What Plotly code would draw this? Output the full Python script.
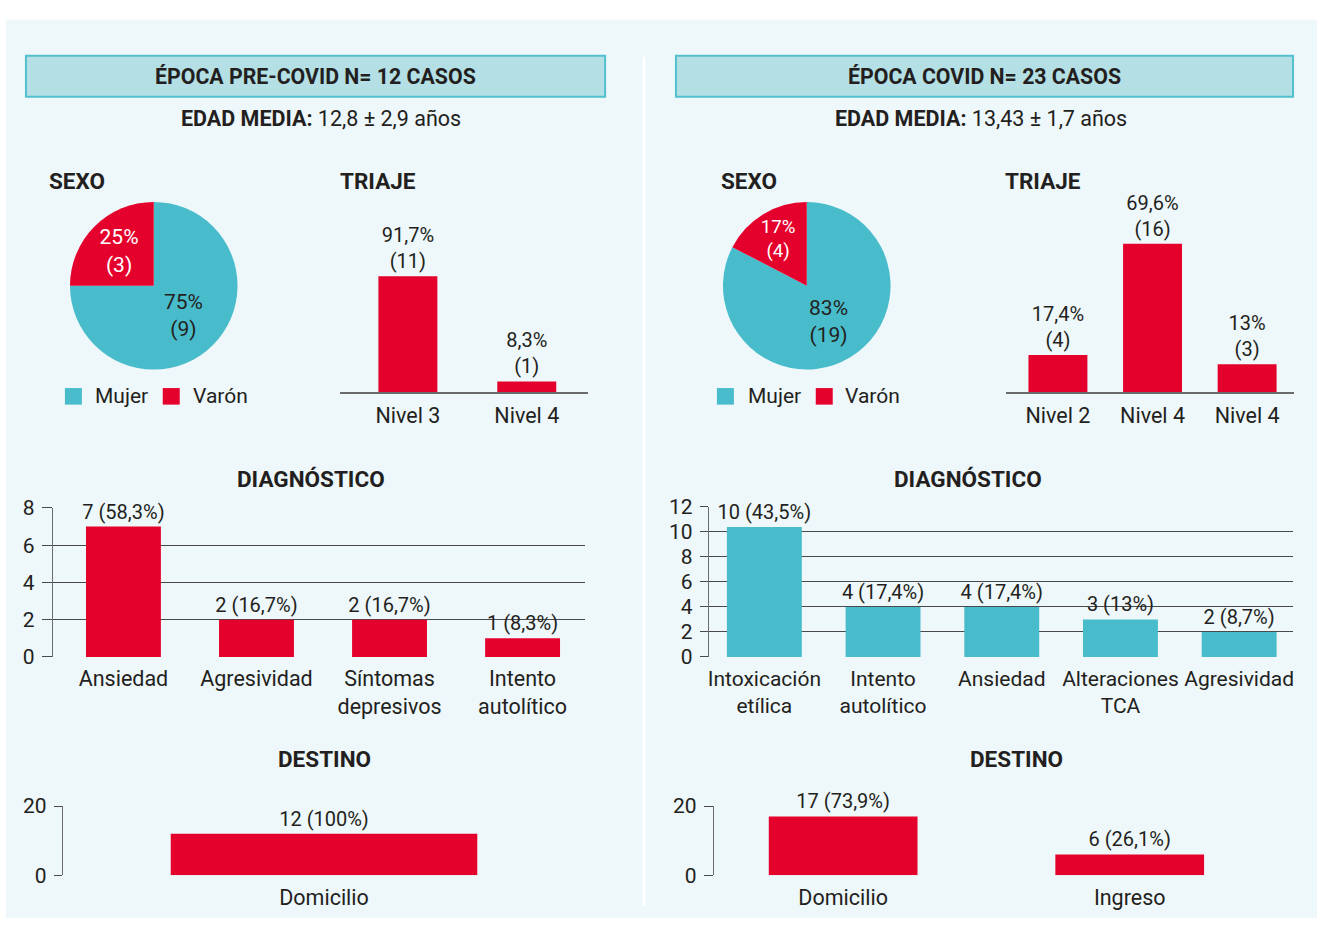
import plotly.graph_objects as go

# ---------------- data ----------------
sexo_labels = ["Mujer", "Varón"]
sexo_pre = [9, 3]
sexo_pre_text = ["75%<br>(9)", "25%<br>(3)"]
sexo_covid = [19, 4]
sexo_covid_text = ["83%<br>(19)", "17%<br>(4)"]

triaje_pre_cats = ["Nivel 3", "Nivel 4"]
triaje_pre_vals = [11, 1]
triaje_pre_text = ["91,7%<br>(11)", "8,3%<br>(1)"]
triaje_covid_cats = ["Nivel 2", "Nivel 4", "Nivel 4"]
triaje_covid_vals = [4, 16, 3]
triaje_covid_text = ["17,4%<br>(4)", "69,6%<br>(16)", "13%<br>(3)"]

diag_pre_cats = ["Ansiedad", "Agresividad", "Síntomas<br>depresivos", "Intento<br>autolítico"]
diag_pre_vals = [7, 2, 2, 1]
diag_pre_text = ["7 (58,3%)", "2 (16,7%)", "2 (16,7%)", "1 (8,3%)"]
diag_covid_cats = ["Intoxicación<br>etílica", "Intento<br>autolítico", "Ansiedad", "Alteraciones<br>TCA", "Agresividad"]
diag_covid_vals = [10.4, 4, 4, 3, 2]
diag_covid_text = ["10 (43,5%)", "4 (17,4%)", "4 (17,4%)", "3 (13%)", "2 (8,7%)"]

dest_pre_cats = ["Domicilio"]
dest_pre_vals = [12]
dest_pre_text = ["12 (100%)"]
dest_covid_cats = ["Domicilio", "Ingreso"]
dest_covid_vals = [17, 6]
dest_covid_text = ["17 (73,9%)", "6 (26,1%)"]

# ---------------- style ----------------
W, H = 1320, 932
RED = "#E4022D"
TEAL = "#48BCCB"
INK = "#231F20"
GRID = "#4a4a4a"
FONT = "Roboto, Open Sans, sans-serif"
LAB = 20


def fx(x):
    return x / W


def fy(y):
    return 1 - y / H


fig = go.Figure()

# ---------------- pies ----------------
for vals, txt_, (x0, x1) in [
    (sexo_pre, sexo_pre_text, (67, 239)),
    (sexo_covid, sexo_covid_text, (721, 893)),
]:
    fig.add_trace(go.Pie(
        labels=sexo_labels, values=vals, text=txt_, textinfo="text",
        sort=False, direction="clockwise", rotation=0,
        marker=dict(colors=[TEAL, RED], line=dict(width=0)),
        textposition="inside", insidetextorientation="horizontal",
        insidetextfont=dict(size=21, color=[INK, "white"], family=FONT),
        domain=dict(x=[fx(x0), fx(x1)], y=[fy(367), fy(195)]),
        showlegend=False, hoverinfo="label+value",
    ))


def add_bar(vals, txt_, color, xa, ya, width):
    xs = list(range(len(vals)))
    fig.add_trace(go.Bar(
        x=xs, y=vals, text=txt_, textposition="outside", cliponaxis=False,
        constraintext="none", width=width,
        textfont=dict(size=LAB, color=INK, family=FONT),
        marker=dict(color=color, line=dict(width=0)),
        xaxis=xa, yaxis=ya, showlegend=False,
    ))
    return xs


layout_axes = {}


def set_axes(n, xs, cats, xdom, ydom, xrange, yrange, yvisible, dtick=2, ticklen=10,
             standoff=6, tick=21.5):
    xk = "xaxis" if n == 1 else f"xaxis{n}"
    yk = "yaxis" if n == 1 else f"yaxis{n}"
    sfx = "" if n == 1 else str(n)
    layout_axes[xk] = dict(
        domain=[fx(xdom[0]), fx(xdom[1])], anchor=f"y{sfx}",
        range=xrange, tickmode="array", tickvals=xs, ticktext=cats,
        showgrid=False, zeroline=False, ticks="", ticklabelstandoff=standoff,
        showline=not yvisible, linecolor="#6b6b6b", linewidth=2,
        tickfont=dict(size=tick, color=INK, family=FONT), fixedrange=True,
    )
    if yvisible:
        layout_axes[yk] = dict(
            domain=[fy(ydom[0]), fy(ydom[1])], anchor=f"x{sfx}",
            range=yrange, dtick=dtick, tick0=0, showgrid=True, gridcolor=GRID,
            gridwidth=1.4, zeroline=False, showline=True, linecolor="#6b6b6b",
            linewidth=1.4, ticks="outside", ticklen=ticklen, tickcolor=GRID,
            tickwidth=1.4, ticklabelstandoff=3,
            tickfont=dict(size=21, color=INK, family=FONT),
            fixedrange=True,
        )
    else:
        layout_axes[yk] = dict(
            domain=[fy(ydom[0]), fy(ydom[1])], anchor=f"x{sfx}",
            range=yrange, visible=False, fixedrange=True,
        )


# triaje pre (axis 1)
xs = add_bar(triaje_pre_vals, triaje_pre_text, RED, "x", "y", 0.496)
set_axes(1, xs, triaje_pre_cats, (340, 588), (390, 217.2), [-0.567, 1.516], [0, 16], False, standoff=3)
# triaje covid (axis 2)
xs = add_bar(triaje_covid_vals, triaje_covid_text, RED, "x2", "y2", 0.623)
set_axes(2, xs, triaje_covid_cats, (1007, 1295), (390, 219), [-0.544, 2.496], [0, 18], False, standoff=3)
# diag pre (axis 3)
xs = add_bar(diag_pre_vals, diag_pre_text, RED, "x3", "y3", 0.563)
set_axes(3, xs, diag_pre_cats, (52, 585), (662, 509), [-0.53, 3.47], [0, 8], True, dtick=2, ticklen=10, standoff=7)
# diag covid (axis 4)
xs = add_bar(diag_covid_vals, diag_covid_text, TEAL, "x4", "y4", 0.631)
set_axes(4, xs, diag_covid_cats, (709, 1294), (662, 508), [-0.467, 4.454], [0, 12], True, dtick=2, ticklen=8,
         standoff=7, tick=21)
# destino pre (axis 5)
xs = add_bar(dest_pre_vals, dest_pre_text, RED, "x5", "y5", 0.587)
set_axes(5, xs, dest_pre_cats, (62, 585), (886, 815), [-0.5, 0.5], [0, 20], True, dtick=20, ticklen=8, standoff=7)
# destino covid (axis 6)
xs = add_bar(dest_covid_vals, dest_covid_text, RED, "x6", "y6", 0.519)
set_axes(6, xs, dest_covid_cats, (714, 1294), (886, 815), [-0.451, 1.570], [0, 20], True, dtick=20, ticklen=9, standoff=7)

# ---------------- decorations ----------------
shapes = [
    dict(type="rect", xref="paper", yref="paper", x0=fx(5), x1=fx(1318), y0=fy(930), y1=fy(8),
         fillcolor="#EEF7FA", line=dict(width=0), layer="below"),
    dict(type="line", xref="paper", yref="paper", x0=fx(644), x1=fx(644), y0=fy(918), y1=fy(46),
         line=dict(color="white", width=3), layer="below"),
    dict(type="rect", xref="paper", yref="paper", x0=fx(25), x1=fx(605), y0=fy(87), y1=fy(45),
         fillcolor="#B4DFE5", line=dict(color="#52C1CD", width=2), layer="below"),
    dict(type="rect", xref="paper", yref="paper", x0=fx(676), x1=fx(1294), y0=fy(87), y1=fy(45),
         fillcolor="#B4DFE5", line=dict(color="#52C1CD", width=2), layer="below"),
]
for (sx, col) in [(64, TEAL), (162, RED), (717, TEAL), (816, RED)]:
    shapes.append(dict(type="rect", xref="paper", yref="paper", x0=fx(sx), x1=fx(sx + 17),
                       y0=fy(403), y1=fy(386), fillcolor=col, line=dict(width=0)))

ann = []


def txt(x, y, s, size=20, bold=False, xanchor="center"):
    ann.append(dict(x=fx(x), y=fy(y), xref="paper", yref="paper", text=s, showarrow=False,
                    xanchor=xanchor, yanchor="middle",
                    font=dict(size=size, color=INK, family=FONT, weight="bold" if bold else "normal")))


txt(315, 66, "ÉPOCA PRE-COVID N= 12 CASOS", 21.3, True)
txt(985, 66, "ÉPOCA COVID N= 23 CASOS", 21.3, True)
txt(320, 109, "<b>EDAD MEDIA:</b> 12,8 ± 2,9 años", 21.5)
txt(981, 109, "<b>EDAD MEDIA:</b> 13,43 ± 1,7 años", 21.5)
txt(46, 173, "SEXO", 22.5, True, "left")
txt(338, 173, "TRIAJE", 22.5, True, "left")
txt(719, 173, "SEXO", 22.5, True, "left")
txt(1004, 173, "TRIAJE", 22.5, True, "left")
txt(310, 479, "DIAGNÓSTICO", 22.5, True)
txt(968, 479, "DIAGNÓSTICO", 22.5, True)
txt(324, 767, "DESTINO", 22.5, True)
txt(1017, 767, "DESTINO", 22.5, True)
for (lx, s) in [(92, "Mujer"), (190, "Varón"), (746, "Mujer"), (843, "Varón")]:
    txt(lx, 394, s, 21, False, "left")

fig.update_layout(
    width=W, height=H, margin=dict(l=0, r=0, t=0, b=0),
    paper_bgcolor="white", plot_bgcolor="rgba(0,0,0,0)",
    font=dict(family=FONT, color=INK),
    shapes=shapes, annotations=ann, bargap=0.4,
    **layout_axes,
)

# make the page exactly the figure size (no default body margin)
page_js = (
    "var de=document.documentElement,b=document.body;"
    "[de,b].forEach(function(e){e.style.margin='0';e.style.padding='0';e.style.width='1320px';"
    "e.style.height='932px';e.style.overflow='hidden';});"
    "var gd=document.getElementById('{plot_id}');gd.style.position='absolute';"
    "gd.style.left='0px';gd.style.top='0px';"
)

fig.write_html("out.html", post_script=page_js, config={"displayModeBar": False})
